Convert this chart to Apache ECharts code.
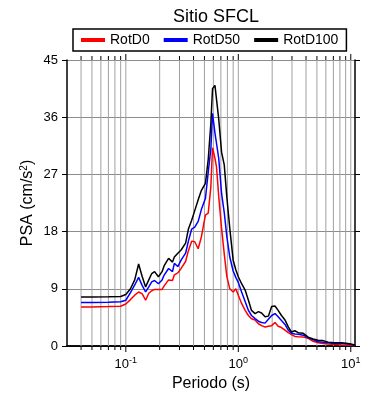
<!DOCTYPE html>
<html>
<head>
<meta charset="utf-8">
<script src="https://cdn.jsdelivr.net/npm/echarts@6/dist/echarts.min.js"></script>
<style>
  html, body { margin: 0; padding: 0; background: #fff; }
  #chart { width: 390px; height: 400px; }
</style>
</head>
<body>
<div id="chart"></div>
<script>
// periods (s)
var periods = [0.04, 0.05, 0.07, 0.09, 0.1, 0.11, 0.12, 0.13, 0.14, 0.15, 0.16, 0.17, 0.18, 0.195,
    0.21, 0.22, 0.24, 0.26, 0.27, 0.29, 0.31, 0.34, 0.36, 0.385, 0.41, 0.44, 0.47, 0.51, 0.54,
    0.57, 0.59, 0.62, 0.64, 0.67, 0.71, 0.75, 0.79, 0.84, 0.9, 0.95, 1.0, 1.07, 1.15, 1.23,
    1.31, 1.41, 1.51, 1.61, 1.73, 1.85, 1.98, 2.12, 2.26, 2.42, 2.6, 2.78, 2.97, 3.18, 3.41,
    3.78, 4.18, 4.63, 5.13, 5.68, 6.29, 7.21, 8.26, 9.47, 10.86];

var rotD0 = [6.15, 6.15, 6.2, 6.25, 6.6, 7.3, 8.0, 8.5, 8.2, 7.2, 8.3, 8.7, 8.9, 8.9,
    8.9, 9.5, 10.4, 10.3, 11.2, 11.5, 12.2, 13.3, 15.0, 16.5, 16.4, 15.3, 17.2, 20.6, 20.9,
    25.0, 31.2, 29.5, 28.2, 23.5, 18.5, 14.5, 11.0, 9.0, 8.5, 9.0, 8.0, 6.7, 5.6, 4.8,
    4.3, 4.1, 3.5, 3.2, 3.0, 3.1, 3.2, 3.7, 3.1, 2.9, 2.5, 2.1, 1.8, 1.5, 1.45,
    1.4, 1.2, 0.75, 0.5, 0.4, 0.3, 0.25, 0.15, 0.1, 0.05];

var rotD50 = [6.85, 6.85, 6.9, 6.95, 7.2, 8.4, 9.6, 10.8, 9.5, 8.5, 9.3, 10.1, 10.3, 9.8,
    10.4, 11.2, 12.2, 11.7, 13.0, 12.5, 13.5, 14.6, 16.5, 18.4, 18.7, 19.6, 21.5, 23.2, 27.3,
    31.0, 36.6, 33.5, 31.9, 29.5, 24.0, 21.0, 17.3, 14.0, 11.8, 10.8, 10.0, 8.5, 7.0, 5.6,
    4.8, 4.3, 3.9, 3.7, 3.6, 4.2, 4.8, 5.1, 4.6, 4.0, 3.4, 2.5, 2.0, 1.9, 1.85,
    1.7, 1.3, 1.0, 0.65, 0.6, 0.5, 0.4, 0.4, 0.3, 0.15];

var rotD100 = [7.7, 7.7, 7.75, 7.8, 8.1, 9.0, 10.4, 12.9, 10.9, 9.3, 10.4, 11.4, 11.7, 10.9,
    11.7, 12.7, 13.8, 13.2, 14.0, 14.6, 15.1, 16.2, 18.4, 19.8, 21.3, 23.0, 24.5, 25.6, 29.3,
    35.0, 40.5, 41.0, 41.2, 35.7, 30.5, 28.5, 23.5, 18.5, 13.5, 12.0, 10.9, 9.8, 8.8, 7.2,
    5.6, 5.1, 5.4, 5.2, 4.6, 4.7, 6.2, 6.3, 5.6, 4.8, 4.1, 3.0, 2.2, 2.4, 2.1,
    2.0, 1.4, 1.1, 0.9, 0.85, 0.6, 0.5, 0.5, 0.4, 0.15];

// vertical log grid lines
var gridPeriods = [0.04, 0.05, 0.06, 0.07, 0.08, 0.09, 0.1, 0.2, 0.3, 0.4, 0.5, 0.6, 0.7, 0.8, 0.9,
    1, 2, 3, 4, 5, 6, 7, 8, 9, 10];

var xMin = 0.03, xMax = 10.9;
var yMin = 0, yMax = 45, yStep = 9;

var font = 'Liberation Sans';

function zip(xs, ys) {
    var out = [];
    for (var i = 0; i < xs.length; i++) out.push([xs[i], ys[i]]);
    return out;
}

function isDecade(v) {
    var l = Math.log10(v);
    return Math.abs(l - Math.round(l)) < 1e-6;
}

var chart = echarts.init(document.getElementById('chart'));

var option = {
    animation: false,
    textStyle: { fontFamily: font, color: '#000' },
    title: {
        text: 'Sitio SFCL',
        left: 211,
        top: 3,
        textAlign: 'center',
        textStyle: { fontFamily: font, fontSize: 18, fontWeight: 'normal', color: '#000' }
    },
    legend: {
        data: ['RotD0', 'RotD50', 'RotD100'],
        left: 73,
        top: 29,
        padding: [4, 8],
        itemGap: 14,
        itemWidth: 24,
        itemHeight: 4,
        icon: 'rect',
        borderColor: '#000',
        borderWidth: 1.5,
        backgroundColor: '#fff',
        textStyle: { fontFamily: font, fontSize: 14, color: '#000' }
    },
    grid: { left: 67, right: 35, top: 60, bottom: 54 },
    xAxis: [{
        type: 'log',
        logBase: 10,
        min: xMin,
        max: xMax,
        name: 'Periodo (s)',
        nameLocation: 'middle',
        nameGap: 29,
        nameTextStyle: { fontFamily: font, fontSize: 16, color: '#000' },
        axisLine: { lineStyle: { color: '#000', width: 1.5 } },
        axisTick: { show: false },
        splitLine: { show: false },
        axisLabel: {
            margin: 10,
            fontFamily: font,
            fontSize: 13,
            color: '#000',
            formatter: function (v) {
                if (!isDecade(v)) return '';
                return '10{sup|' + Math.round(Math.log10(v)) + '}';
            },
            rich: {
                sup: { fontSize: 9, verticalAlign: 'bottom', padding: [0, 0, 8, 0] }
            }
        }
    }, {
        type: 'log',
        logBase: 10,
        position: 'top',
        min: xMin,
        max: xMax,
        axisLine: { lineStyle: { color: '#000', width: 1.5 } },
        axisTick: { show: false },
        axisLabel: { show: false },
        splitLine: { show: false }
    }],
    yAxis: [{
        type: 'value',
        min: yMin,
        max: yMax,
        interval: yStep,
        name: 'PSA (cm/s{sup|2})',
        nameLocation: 'middle',
        nameGap: 30,
        nameMoveOverlap: false,
        nameTextStyle: {
            fontFamily: font, fontSize: 16, color: '#000',
            rich: { sup: { fontSize: 10, verticalAlign: 'bottom', padding: [0, 0, 8, 0] } }
        },
        axisLine: { show: true, lineStyle: { color: '#000', width: 1.5 } },
        axisTick: { show: true, length: 5, lineStyle: { color: '#000' } },
        axisLabel: { margin: 9, fontFamily: font, fontSize: 13, color: '#000' },
        splitLine: { show: true, lineStyle: { color: '#8c8c8c', width: 1 } }
    }, {
        type: 'value',
        position: 'right',
        min: yMin,
        max: yMax,
        interval: yStep,
        axisLine: { show: true, lineStyle: { color: '#000', width: 1.5 } },
        axisTick: { show: true, length: 5, lineStyle: { color: '#000' } },
        axisLabel: { show: false },
        splitLine: { show: false }
    }],
    series: [{
        name: 'grid',
        type: 'custom',
        silent: true,
        z: 1,
        data: gridPeriods.map(function (t) { return [t, yMin]; }),
        renderItem: function (params, api) {
            var t = api.value(0);
            var bot = api.coord([t, yMin]);
            var top = api.coord([t, yMax]);
            var tk = isDecade(t) ? 6 : 4;
            return {
                type: 'group',
                children: [{
                    type: 'line',
                    shape: { x1: bot[0], y1: bot[1], x2: top[0], y2: top[1] },
                    style: { stroke: '#a0a0a0', lineWidth: 1 }
                }, {
                    type: 'line',
                    shape: { x1: bot[0], y1: bot[1], x2: bot[0], y2: bot[1] + tk },
                    style: { stroke: '#000', lineWidth: 1 }
                }, {
                    type: 'line',
                    shape: { x1: top[0], y1: top[1], x2: top[0], y2: top[1] - tk },
                    style: { stroke: '#000', lineWidth: 1 }
                }]
            };
        }
    }, {
        name: 'RotD0',
        type: 'line',
        z: 3,
        data: zip(periods, rotD0),
        symbol: 'none',
        color: '#ff0000',
        lineStyle: { color: '#ff0000', width: 1.5 }
    }, {
        name: 'RotD50',
        type: 'line',
        z: 3,
        data: zip(periods, rotD50),
        symbol: 'none',
        color: '#0000ff',
        lineStyle: { color: '#0000ff', width: 1.5 }
    }, {
        name: 'RotD100',
        type: 'line',
        z: 3,
        data: zip(periods, rotD100),
        symbol: 'none',
        color: '#000000',
        lineStyle: { color: '#000000', width: 1.5 }
    }]
};

chart.setOption(option);
</script>
</body>
</html>
